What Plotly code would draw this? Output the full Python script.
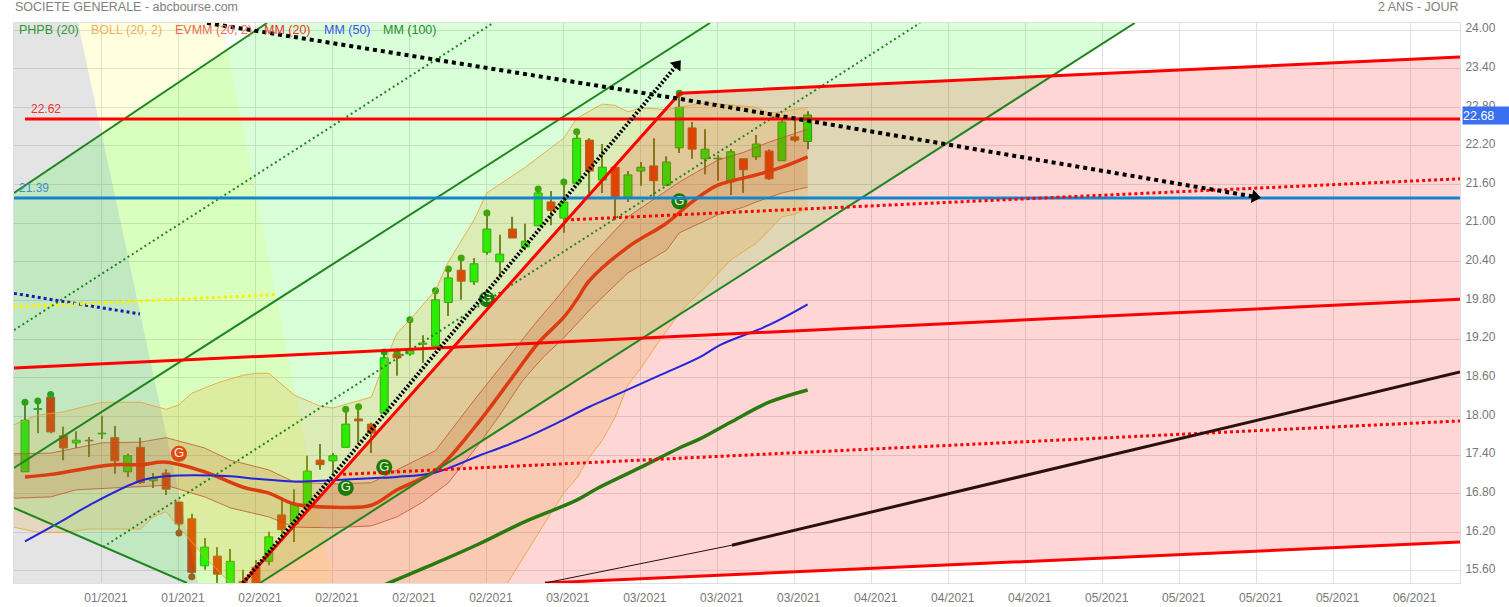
import plotly.graph_objects as go

# ---- price candles (bar index = position in list) ----
opens = [17.14,18.11,18.30,17.70,17.59,17.63,17.73,17.67,17.14,17.52,17.00,17.12,16.67,16.41,15.68,15.83,15.30,15.44,15.66,15.75,16.47,16.33,16.64,17.32,17.31,17.52,17.96,17.88,18.05,18.97,18.97,19.12,19.09,19.77,20.27,20.09,20.55,20.40,20.91,20.63,20.96,21.33,21.08,21.62,22.29,21.67,21.87,21.39,21.81,21.89,21.59,22.17,22.48,22.00,22.00,21.64,22.00,22.03,22.12,21.97,22.34,22.27]
highs = [18.21,18.21,18.33,17.84,17.77,17.68,18.01,17.85,17.42,17.67,17.12,17.18,16.67,16.49,16.11,15.97,15.94,15.62,15.77,16.21,16.70,16.87,17.39,17.57,17.43,18.07,18.10,17.90,19.00,19.03,19.50,19.26,19.95,20.29,20.46,20.46,21.16,20.82,21.10,20.99,21.52,21.50,21.61,22.37,22.32,22.23,21.87,21.81,21.95,22.32,22.04,23.02,22.57,22.46,22.06,22.15,22.00,22.37,22.15,22.60,22.65,22.74]
lows = [17.14,17.74,17.74,17.32,17.51,17.37,17.65,17.11,17.06,16.95,16.89,16.78,16.24,15.49,15.62,15.30,15.23,15.23,15.23,15.69,16.08,16.05,16.64,17.17,17.12,17.52,17.59,17.43,18.05,18.63,18.94,18.83,19.09,19.56,19.81,20.04,20.51,20.16,20.77,20.58,20.96,20.97,20.85,21.62,21.47,21.47,21.05,21.33,21.58,21.41,21.58,22.09,22.00,21.76,21.66,21.44,21.47,21.98,21.67,21.97,22.26,22.15]
closes = [17.94,18.12,17.76,17.51,17.63,17.62,17.74,17.31,17.39,16.97,17.04,16.87,16.33,15.58,15.97,15.55,15.75,15.30,15.30,16.13,16.24,16.64,17.15,17.25,17.39,17.88,17.93,17.74,18.91,18.91,19.02,19.14,19.81,20.15,20.10,20.37,20.91,20.52,20.77,20.72,21.47,21.20,21.33,22.32,21.81,21.87,21.41,21.75,21.87,21.66,21.95,22.80,22.15,22.15,22.01,22.11,21.83,22.23,21.69,22.57,22.29,22.68]

# signal dots
up_dot_idx = [0,1,2,25,26,28,29,30,32,33,34,36,40,42,43,51]
up_dot_val = [18.22,18.24,18.34,18.11,18.15,19.00,19.00,19.50,19.95,20.29,20.46,21.16,21.53,21.64,22.42,23.02]
down_dot_idx = [12,13]
down_dot_val = [16.19,15.51]
g_green_idx = [25,28,36,51]
g_green_val = [16.89,17.21,19.82,21.34]
g_red_idx = [12]
g_red_val = [17.42]

# indicators
boll_up_idx = [-0.86,1,3,6,9,11,12,13,15,17,18,19,21,23,24,27,28,29,30,32,33,35,36,39,42,43,45,46,47,48,49,50,51,53,56,57,58,59,61]
boll_up_val = [17.87,18.02,18.07,18.22,18.22,18.11,18.18,18.36,18.52,18.64,18.67,18.67,18.33,18.16,18.13,18.30,18.83,19.29,19.50,19.96,20.40,21.05,21.47,21.87,22.32,22.63,22.85,22.83,22.73,22.79,22.78,22.76,22.80,22.87,22.82,22.80,22.71,22.73,22.80]
boll_lo_idx = [-0.86,1,3,5,9,10,11,12,14,16,17,20,25,32,37,37.6,41,42,43,44,45,46,47,48,49.5,51,52,53,55,57,58,59,60,61]
boll_lo_val = [16.28,16.20,16.20,16.25,16.25,16.44,16.52,16.28,15.82,15.41,15.30,15.15,15.00,15.00,15.15,15.41,16.50,16.81,17.04,17.37,17.63,17.99,18.49,18.75,19.19,19.60,19.81,20.00,20.43,20.69,20.89,21.10,21.14,21.24]
ev_up_idx = [-0.86,2,6,9,11,14,16,19,21,24,27,29,32,35,37,38.6,40,41.3,44,47,51,54,56,58,61]
ev_up_val = [17.42,17.43,17.59,17.60,17.67,17.51,17.32,17.17,16.98,16.95,16.97,17.17,17.47,18.25,18.75,19.14,19.50,19.80,20.47,21.10,21.64,21.98,22.10,22.26,22.46]
ev_lo_idx = [-0.86,2,4,7,9,11,14,16,19,21,24,27,29,31,33,35.5,37,38.8,40.4,42,44,44.8,47,50,51,54,56,57,59,61]
ev_lo_val = [16.73,16.75,16.86,16.89,16.90,16.93,16.75,16.58,16.44,16.28,16.27,16.30,16.44,16.67,16.97,17.60,18.02,18.56,18.92,19.22,19.65,19.81,20.23,20.58,20.85,21.13,21.25,21.33,21.47,21.56]
ev_mid_idx = [0,2,5,7,9,11,14,17,19,21,24,27,29,32,35,38,40,42,43,44,47,50,52,54,57,59,61]
ev_mid_val = [17.06,17.10,17.20,17.25,17.25,17.29,17.14,16.90,16.81,16.64,16.59,16.62,16.86,17.16,17.82,18.61,19.14,19.54,19.81,20.11,20.63,21.00,21.33,21.59,21.75,21.87,22.03]
mm50_idx = [0,3,5,9,11,16,18,21,24,27,29,32,35.5,37,38.8,41.5,44,46.6,49.5,52.6,54.2,58,61]
mm50_val = [16.06,16.39,16.62,17.00,17.07,17.07,17.03,16.99,17.01,17.04,17.06,17.13,17.40,17.51,17.65,17.90,18.15,18.38,18.64,18.92,19.11,19.42,19.74]
mm100_idx = [27,32,35.5,38.8,43,44.6,47.9,51,52.6,55,58,61]
mm100_val = [15.30,15.72,16.03,16.35,16.70,16.88,17.20,17.51,17.65,17.91,18.22,18.41]

# hand-drawn zones and trend lines (bar index, price)
X0, X1, Y0, Y1 = -0.857, 111.85, 15.413, 24.109
grey_x = [X0,4.13,13.48,X0];            grey_y = [Y1,Y1,Y0,Y0]
yellow_x = [4.13,15.35,24.0,13.48];     yellow_y = [Y1,Y1,Y0,Y0]
green_x = [X0,18.86,86.5,18.32,12.63,X0]; green_y = [21.47,Y1,Y1,Y0,Y0,16.58]
red_x = [16.99,51.05,X1,X1,40.53];      red_y = [Y0,23.02,23.58,16.05,Y0]

green_solid = [([X0,18.86],[21.47,Y1]), ([X0,53.39],[17.20,Y1]), ([18.32,86.5],[Y0,Y1]), ([X0,12.63],[16.58,Y0])]
green_dot = [([X0,36.48],[19.34,Y1]), ([6.08,69.76],[15.97,Y1])]
red_solid = [([16.99,51.05,X1],[Y0,23.02,23.58]), ([X0,X1],[18.75,19.82]), ([40.53,X1],[Y0,16.05]), ([0,X1],[22.62,22.62])]
red_dot = [([42.09,X1],[21.05,21.69]), ([24.79,X1],[17.10,17.93])]

tick_idx = list(range(6,109,6))
tick_txt = ["01/2021","01/2021","02/2021","02/2021","02/2021","02/2021","03/2021","03/2021","03/2021","03/2021","04/2021","04/2021","04/2021","05/2021","05/2021","05/2021","05/2021","06/2021"]
y_ticks = [15.6,16.2,16.8,17.4,18.0,18.6,19.2,19.8,20.4,21.0,21.6,22.2,22.8,23.4,24.0]
y_txt = ["%.2f" % v for v in y_ticks]

FONT = "Liberation Sans, Arial, sans-serif"
fig = go.Figure()
bars = list(range(len(opens)))
up = [i for i in bars if closes[i] >= opens[i]]
down = [i for i in bars if closes[i] < opens[i]]

# wicks, then bodies (the bar layer sits below every filled zone)
fig.add_trace(go.Bar(x=bars, base=lows, y=[h-l for h, l in zip(highs, lows)], width=0.09,
    marker=dict(color="#6e6e30", line=dict(width=0)), hoverinfo="skip"))
fig.add_trace(go.Bar(x=up, base=[opens[i] for i in up], y=[closes[i]-opens[i] for i in up], width=0.62,
    marker=dict(color="#00ff00", line=dict(color="#209a0a", width=1)), hoverinfo="skip"))
fig.add_trace(go.Bar(x=down, base=[closes[i] for i in down], y=[opens[i]-closes[i] for i in down], width=0.62,
    marker=dict(color="#ff1800", line=dict(color="#b04a20", width=1)), hoverinfo="skip"))

def line(x, y, color, width, dash="solid", shape="linear"):
    fig.add_trace(go.Scatter(x=x, y=y, mode="lines", line=dict(color=color, width=width, dash=dash, shape=shape), hoverinfo="skip"))

def zone(x, y, color):
    fig.add_trace(go.Scatter(x=x, y=y, mode="lines", line=dict(width=0), fill="toself", fillcolor=color, hoverinfo="skip"))

fig.add_trace(go.Scatter(x=up_dot_idx, y=up_dot_val, mode="markers", marker=dict(color="#1f9a08", size=7)))
fig.add_trace(go.Scatter(x=down_dot_idx, y=down_dot_val, mode="markers", marker=dict(color="#c83a10", size=7)))

zone(grey_x, grey_y, "rgba(120,120,120,0.2)")
zone(yellow_x, yellow_y, "rgba(255,255,0,0.12)")
zone(green_x, green_y, "rgba(0,255,0,0.15)")
zone(red_x, red_y, "rgba(255,0,0,0.16)")

zone(boll_up_idx + boll_lo_idx[::-1], boll_up_val + boll_lo_val[::-1], "rgba(235,150,30,0.18)")
line(boll_up_idx, boll_up_val, "rgba(230,165,60,0.85)", 1)
line(boll_lo_idx, boll_lo_val, "rgba(230,165,60,0.85)", 1)
zone(ev_up_idx + ev_lo_idx[::-1], ev_up_val + ev_lo_val[::-1], "rgba(200,70,20,0.16)")
line(ev_up_idx, ev_up_val, "rgba(190,80,40,0.75)", 1)
line(ev_lo_idx, ev_lo_val, "rgba(190,80,40,0.75)", 1)
line(ev_mid_idx, ev_mid_val, "#dc3c10", 3.5, shape="spline")

fig.add_trace(go.Scatter(x=g_green_idx, y=g_green_val, mode="markers+text", text=["G"]*4, textposition="middle center",
    textfont=dict(color="#e8f5d8", size=13, family=FONT), marker=dict(color="#1c7a08", size=16)))
fig.add_trace(go.Scatter(x=g_red_idx, y=g_red_val, mode="markers+text", text=["G"], textposition="middle center",
    textfont=dict(color="#fff0e0", size=13, family=FONT), marker=dict(color="#e04a10", size=16)))

line(mm50_idx, mm50_val, "#2424d8", 2, shape="spline")
line(mm100_idx, mm100_val, "#2a7a10", 3.5, shape="spline")

line([X0,8.96], [19.91,19.59], "#1a1ab8", 3, "3px,3px")
line([X0,19.49], [19.70,19.89], "#fff000", 3, "3px,3px")
for x, y in green_solid:
    line(x, y, "#1f851f", 2)
for x, y in green_dot:
    line(x, y, "#1f851f", 2, "2px,3px")
line([X0,X1], [21.39,21.39], "#1485cc", 3)
for x, y in red_solid:
    line(x, y, "#ff0000", 3)
for x, y in red_dot:
    line(x, y, "#ff0000", 3, "3px,3px")
line([40.53,55.1], [Y0,16.00], "#201010", 1)
line([55.1,X1], [16.00,18.69], "#2a1010", 3)
line([14.19,51.05,95.87], [Y1,22.93,21.41], "#000000", 4, "4px,4px")
line([16.99,50.82], [Y0,23.46], "#000000", 4, "2px,2px")
fig.add_trace(go.Scatter(x=[95.87,50.82], y=[21.41,23.46], mode="markers",
    marker=dict(symbol="triangle-up", size=12, angle=[100,40], color="#000000")))

ann = []
def label(text, x, color, size=12.5):
    ann.append(dict(text=text, xref="paper", yref="paper", x=(x-14)/1446, y=1-(30-23)/560, xanchor="left", yanchor="middle",
                    showarrow=False, font=dict(color=color, size=size, family=FONT)))
label("PHPB (20)", 17, "#2e9a2e")
label("BOLL (20, 2)", 89, "#f0b060")
label("EVMM (20, 2)", 173, "#e86a50")
label("MM (20)", 262, "#f03030")
label("MM (50)", 322, "#3a50f0")
label("MM (100)", 381, "#2a8a2a")
ann.append(dict(text="22.62", x=0.3, y=22.62, xanchor="left", yanchor="bottom", yshift=1, showarrow=False,
                font=dict(color="#f03030", size=12, family=FONT)))
ann.append(dict(text="21.39", x=-0.6, y=21.39, xanchor="left", yanchor="bottom", yshift=1, showarrow=False,
                font=dict(color="#3a90c8", size=12, family=FONT)))
ann.append(dict(text="SOCIETE GENERALE - abcbourse.com", xref="paper", yref="paper", x=0, y=1.0, yshift=8, xanchor="left", yanchor="bottom",
                showarrow=False, font=dict(color="#808080", size=12.5, family=FONT), borderpad=0))
ann.append(dict(text="2 ANS - JOUR", xref="paper", yref="paper", x=1, y=1.0, yshift=8, xanchor="right", yanchor="bottom",
                showarrow=False, font=dict(color="#808080", size=12.5, family=FONT), borderpad=0))
ann.append(dict(text="22.68 ", xref="paper", yref="y", x=1, xshift=2, y=22.68, xanchor="left", yanchor="middle", showarrow=False,
                bgcolor="#3a70f0", width=47, height=17, align="left", font=dict(color="#ffffff", size=12.5, family=FONT), borderpad=0))

fig.update_layout(width=1509, height=607, margin=dict(l=14, r=49, t=23, b=24, pad=0), showlegend=False,
    plot_bgcolor="#ffffff", paper_bgcolor="#ffffff", annotations=ann, barmode="overlay",
    font=dict(family=FONT, size=12, color="#777777"),
    xaxis=dict(range=[X0,X1], tickmode="array", tickvals=tick_idx, ticktext=tick_txt, automargin=False,
               showgrid=True, gridcolor="#e0e0e0", gridwidth=1.2, zeroline=False, showline=True, linecolor="#e0e0e0", mirror=True,
               ticks="", ticklabelshift=4, ticklabelstandoff=4, tickfont=dict(size=12, color="#777777")),
    yaxis=dict(range=[Y0,Y1], side="right", tickmode="array", tickvals=y_ticks, ticktext=y_txt, automargin=False,
               showgrid=True, gridcolor="#e0e0e0", gridwidth=1.2, zeroline=False, showline=True, linecolor="#e0e0e0", mirror=True,
               ticks="", ticklabelshift=-2, ticklabelstandoff=2, tickfont=dict(size=12, color="#777777")))

fig.write_html("out.html", post_script="document.body.style.margin='0';", config=dict(displayModeBar=False))
